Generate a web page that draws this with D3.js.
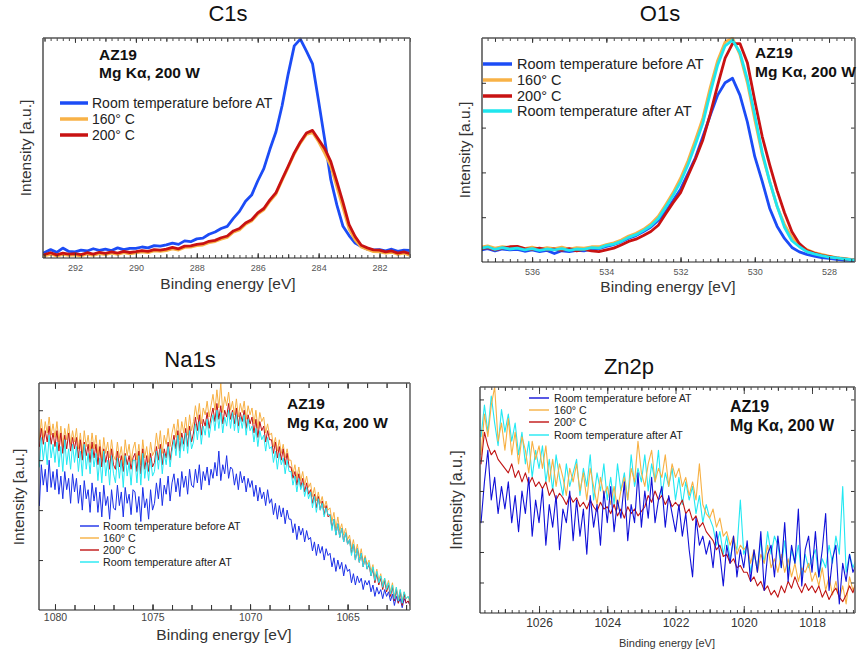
<!DOCTYPE html>
<html>
<head>
<meta charset="utf-8">
<script src="https://cdn.jsdelivr.net/npm/d3@7"></script>
<style>
  body { margin: 0; background: #ffffff; }
  svg { display: block; font-family: "Liberation Sans", Arial, Helvetica, sans-serif; }
</style>
</head>
<body>
<svg id="chart" width="858" height="655"></svg>
<script>
// ---------------------------------------------------------------
// XPS spectra of AZ19 (Mg Kα, 200 W): C1s, O1s, Na1s, Zn2p
// Intensities are normalised (arbitrary units, 0–100 per panel).
// ---------------------------------------------------------------

const seriesNames = [
  "Room temperature before AT",
  "160° C",
  "200° C",
  "Room temperature after AT"
];
const annotationLines = ["AZ19", "Mg Kα, 200 W"];
const axisTitleX = "Binding energy [eV]";
const axisTitleY = "Intensity [a.u.]";

// ---- C1s: 293.0 eV down to 281.0 eV, 0.2 eV steps ----
const c1sStart = 293.0, c1sStep = 0.2;
const c1sTicks = [292, 290, 288, 286, 284, 282];
const c1sRtBefore = [
  2.5, 3.8, 2.6, 4.5, 3.0,
  2.8, 3.6, 3.2, 4.2, 3.5,
  4.0, 3.4, 4.6, 3.8, 4.4,
  4.4, 5.0, 4.6, 5.6, 5.4,
  6.0, 6.8, 6.2, 7.8, 7.4,
  8.7, 9.0, 10.8, 11.8, 13.4,
  14.4, 18.0, 21.2, 25.8, 28.6,
  35.0, 40.6, 49.4, 57.4, 69.2,
  83.6, 96.4, 99.5, 94.0, 88.2,
  71.2, 53.8, 35.6, 24.0, 14.4,
  10.2, 6.8, 5.2, 4.0, 3.7,
  3.8, 3.2, 4.0, 3.0, 3.6,
  3.4
];
const c1s160 = [
  1.0, 1.8, 0.9, 1.6, 1.2,
  1.4, 0.9, 1.8, 1.2, 2.0,
  1.5, 2.2, 1.6, 2.4, 1.9,
  2.3, 2.8, 2.4, 3.2, 3.0,
  3.4, 4.1, 3.6, 4.8, 4.9,
  5.6, 5.9, 7.0, 7.5, 8.6,
  9.4, 11.7, 12.8, 15.3, 16.8,
  19.9, 21.9, 25.8, 29.1, 35.3,
  41.2, 47.3, 52.2, 56.2, 57.0,
  52.8, 47.6, 41.8, 32.2, 22.8,
  13.2, 8.2, 5.0, 3.9, 2.9,
  2.8, 2.2, 2.6, 1.6, 2.2,
  1.2
];
const c1s200 = [
  1.6, 2.4, 1.4, 2.2, 1.8,
  2.0, 1.5, 2.4, 1.8, 2.6,
  2.1, 2.8, 2.2, 3.0, 2.5,
  2.9, 3.4, 3.0, 3.8, 3.6,
  4.0, 4.8, 4.2, 5.4, 5.5,
  6.2, 6.5, 7.6, 8.0, 9.2,
  10.0, 12.3, 13.4, 15.9, 17.4,
  20.5, 22.5, 26.4, 29.7, 35.8,
  41.7, 47.8, 52.7, 56.8, 58.0,
  53.8, 49.7, 43.8, 34.7, 25.3,
  15.2, 9.7, 5.8, 4.6, 3.7,
  3.6, 2.8, 3.2, 2.2, 2.8,
  2.0
];

// ---- O1s: 537.4 eV down to 527.2 eV, 0.2 eV steps ----
const o1sStart = 537.4, o1sStep = 0.2;
const o1sTicks = [536, 534, 532, 530, 528];
const o1sRtBefore = [
  5.2, 6.0, 5.0, 5.8, 5.4,
  5.6, 4.8, 5.4, 4.6, 5.2,
  3.8, 5.0, 4.6, 5.2, 5.0,
  5.8, 6.0, 7.0, 7.8, 9.0,
  10.6, 11.8, 13.6, 15.6, 18.6,
  22.5, 27.5, 32.5, 39.5, 46.5,
  55.9, 65.5, 74.5, 80.0, 82.0,
  74.5, 62.5, 47.0, 36.0, 24.0,
  16.0, 10.5, 6.5, 4.5, 3.4,
  2.6, 2.0, 1.6, 1.2, 0.9,
  0.7, 0.5
];
const o1s160 = [
  6.6, 7.2, 6.2, 6.9, 6.4,
  6.8, 6.0, 6.6, 5.8, 6.4,
  6.0, 6.6, 5.8, 6.4, 6.2,
  6.8, 6.8, 7.8, 8.6, 9.8,
  11.6, 12.8, 14.6, 17.0, 20.4,
  25.6, 31.0, 37.4, 45.2, 54.5,
  64.2, 78.0, 90.0, 98.2, 100.0,
  92.5, 80.0, 63.5, 48.0, 36.0,
  24.8, 16.8, 11.0, 7.6, 5.6,
  4.2, 3.4, 2.6, 2.0, 1.6,
  1.2, 1.0
];
const o1s200 = [
  5.8, 6.4, 5.4, 6.2, 6.8,
  7.0, 6.0, 5.6, 6.2, 5.4,
  5.8, 5.2, 6.0, 5.0, 5.6,
  5.0, 4.6, 5.4, 6.2, 7.6,
  9.2, 10.2, 11.8, 13.6, 16.4,
  21.5, 26.5, 31.0, 38.5, 46.0,
  54.5, 66.0, 79.0, 91.0, 97.5,
  97.5, 89.0, 72.0, 56.0, 43.5,
  32.0, 22.0, 13.5, 8.2, 5.2,
  4.0, 3.0, 2.4, 1.8, 1.4,
  1.0, 0.8
];
const o1sRtAfter = [
  6.0, 6.8, 5.6, 6.4, 5.8,
  6.2, 5.4, 6.0, 5.2, 5.8,
  5.4, 6.0, 5.2, 5.8, 5.6,
  6.4, 6.2, 7.4, 8.0, 9.2,
  11.0, 12.2, 14.0, 16.2, 19.4,
  24.5, 29.8, 35.8, 43.4, 52.5,
  62.0, 75.5, 88.0, 96.5, 99.0,
  93.5, 81.5, 65.5, 49.0, 36.0,
  25.0, 15.5, 9.5, 6.8, 4.6,
  3.6, 2.8, 2.2, 1.8, 1.4,
  1.0, 0.8
];

// ---- Na1s: 1080.8 eV down to 1061.8 eV, 0.1 eV steps ----
const na1sStart = 1080.8, na1sStep = 0.1;
const na1sTicks = [1080, 1075, 1070, 1065];
const na1sRtBefore = [
  46, 64, 55, 62, 52, 66, 54, 61, 53,
  62, 51, 59, 49, 61, 53, 58, 47, 60, 52,
  58, 47, 55, 44, 57, 49, 53, 43, 56, 48,
  54, 43, 52, 41, 55, 46, 50, 40, 53, 45,
  44, 55, 46, 52, 41, 54, 47, 51, 42, 53,
  52, 43, 50, 39, 54, 45, 49, 40, 53, 44,
  47, 56, 49, 58, 46, 55, 51, 59, 48, 56,
  60, 52, 58, 50, 61, 54, 59, 51, 62, 55,
  54, 62, 56, 64, 53, 61, 57, 63, 55, 62,
  58, 65, 59, 70, 57, 64, 60, 68, 58, 63,
  62, 55, 60, 53, 61, 56, 59, 52, 58, 54,
  57, 50, 55, 48, 54, 49, 52, 46, 53, 47,
  49, 42, 47, 40, 46, 41, 45, 38, 44, 40,
  40, 34, 38, 31, 37, 33, 36, 30, 35, 31,
  32, 26, 30, 24, 29, 25, 28, 22, 27, 24,
  25, 19, 23, 17, 22, 18, 21, 15, 20, 17,
  18, 12, 16, 11, 15, 12, 14, 9, 13, 11,
  13, 8, 11, 6, 10, 7, 9, 5, 9, 6,
  8, 4, 7, 2, 6, 3, 5, 1, 5, 3,
  4, 2
];
const na1s160 = [
  75, 84, 76, 83, 78, 85, 77, 82, 76,
  83, 74, 81, 72, 80, 75, 82, 73, 79, 74,
  80, 71, 78, 69, 79, 72, 77, 70, 78, 71,
  77, 68, 75, 66, 76, 69, 74, 67, 75, 68,
  66, 74, 67, 72, 64, 75, 68, 73, 65, 71,
  74, 66, 73, 64, 75, 67, 72, 65, 74, 68,
  70, 78, 71, 79, 69, 77, 73, 80, 72, 78,
  82, 76, 84, 75, 83, 78, 85, 77, 86, 79,
  83, 90, 84, 91, 82, 89, 86, 92, 85, 90,
  95, 88, 97, 89, 100, 87, 94, 90, 96, 88,
  92, 86, 93, 85, 91, 87, 92, 84, 90, 86,
  89, 82, 88, 80, 87, 83, 85, 78, 82, 77,
  78, 72, 76, 70, 75, 69, 73, 67, 71, 66,
  66, 60, 64, 58, 63, 57, 61, 55, 59, 54,
  56, 50, 54, 48, 52, 47, 50, 45, 48, 44,
  45, 39, 43, 36, 41, 35, 38, 33, 36, 31,
  33, 27, 31, 25, 29, 23, 27, 21, 24, 20,
  22, 17, 20, 14, 18, 13, 16, 11, 14, 10,
  13, 8, 12, 6, 10, 5, 9, 4, 8, 5,
  6, 3
];
const na1s200 = [
  72, 80, 73, 79, 74, 81, 73, 78, 72,
  79, 70, 78, 69, 77, 71, 78, 70, 76, 71,
  76, 67, 75, 66, 74, 68, 73, 65, 74, 67,
  73, 64, 72, 63, 71, 65, 70, 62, 71, 64,
  62, 70, 63, 68, 61, 69, 64, 68, 62, 67,
  69, 61, 70, 60, 71, 62, 68, 61, 69, 63,
  65, 72, 66, 73, 64, 71, 67, 74, 66, 72,
  77, 71, 79, 70, 78, 73, 80, 72, 81, 74,
  78, 85, 79, 86, 77, 84, 81, 87, 80, 85,
  89, 83, 91, 84, 90, 82, 88, 85, 91, 84,
  88, 82, 89, 81, 87, 83, 88, 80, 86, 82,
  85, 78, 84, 76, 83, 79, 81, 74, 79, 75,
  75, 69, 74, 67, 72, 66, 71, 64, 69, 63,
  63, 58, 61, 55, 60, 54, 58, 52, 56, 51,
  53, 47, 51, 45, 50, 44, 48, 42, 46, 41,
  42, 36, 40, 33, 38, 32, 36, 30, 34, 29,
  31, 25, 29, 22, 27, 21, 25, 19, 23, 18,
  20, 15, 18, 12, 16, 11, 14, 9, 13, 8,
  11, 6, 10, 4, 9, 3, 8, 2, 7, 3,
  4, 2
];
const na1sRtAfter = [
  63, 76, 66, 74, 64, 77, 67, 73, 65,
  74, 63, 72, 61, 75, 64, 71, 62, 73, 65,
  72, 61, 70, 59, 73, 62, 69, 60, 71, 63,
  69, 57, 67, 56, 70, 59, 66, 55, 68, 60,
  56, 67, 58, 66, 54, 68, 59, 65, 55, 66,
  66, 56, 68, 55, 69, 58, 65, 57, 67, 59,
  61, 70, 62, 71, 60, 69, 64, 72, 63, 70,
  75, 68, 77, 67, 76, 70, 78, 69, 79, 71,
  74, 82, 75, 83, 73, 81, 77, 84, 76, 82,
  86, 79, 88, 80, 87, 78, 85, 81, 88, 80,
  87, 79, 86, 78, 85, 80, 86, 77, 84, 79,
  81, 74, 80, 72, 79, 75, 77, 70, 76, 71,
  72, 65, 70, 62, 69, 64, 67, 60, 66, 61,
  61, 55, 59, 52, 58, 53, 56, 50, 54, 49,
  52, 45, 50, 43, 49, 44, 47, 41, 45, 42,
  42, 35, 40, 33, 38, 32, 36, 30, 34, 29,
  31, 24, 29, 22, 27, 21, 25, 19, 23, 18,
  21, 15, 19, 13, 17, 12, 15, 10, 14, 9,
  12, 7, 11, 5, 10, 4, 9, 3, 8, 5,
  6, 4
];

// ---- Zn2p: 1027.7 eV down to 1016.7 eV, 0.1 eV steps ----
const zn2pStart = 1027.7, zn2pStep = 0.1;
const zn2pTicks = [1026, 1024, 1022, 1020, 1018];
const zn2pRtBefore = [
  40, 58, 72, 50, 60, 44, 56, 46,
  58, 40, 52, 36, 54, 44, 60, 34, 50, 40,
  55, 30, 48, 38, 52, 28, 46, 40, 54, 32,
  50, 34, 46, 26, 52, 38, 48, 30, 54, 40,
  56, 36, 50, 42, 58, 32, 48, 40, 62, 38,
  54, 42, 60, 40, 50, 56, 38, 52, 44, 36,
  48, 34, 44, 28, 16, 42, 30, 34, 26, 32,
  20, 36, 26, 12, 30, 22, 34, 16, 28, 20,
  32, 14, 28, 18, 36, 10, 26, 30, 16, 34,
  20, 40, 14, 30, 22, 46, 12, 28, 34, 18,
  36, 16, 28, 44, 10, 24, 30, 4, 22, 14,
  26, 18, 22
];
const zn2p160 = [
  70, 88, 78, 92, 100, 76, 84, 72,
  86, 70, 80, 66, 78, 72, 62, 76, 68, 74,
  64, 74, 58, 68, 56, 66, 60, 52, 64, 58,
  66, 54, 62, 50, 64, 56, 48, 60, 52, 56,
  48, 56, 46, 54, 60, 50, 64, 58, 76, 62,
  56, 66, 72, 58, 64, 60, 70, 56, 66, 60,
  64, 56, 60, 52, 58, 50, 66, 48, 44, 42,
  46, 38, 42, 34, 36, 30, 34, 26, 30, 28,
  30, 22, 28, 18, 26, 22, 30, 20, 24, 18,
  26, 18, 24, 16, 22, 14, 20, 18, 22, 14,
  18, 12, 20, 10, 16, 8, 14, 6, 12, 4,
  16, 10, 14
];
const zn2p200 = [
  66, 80, 74, 70, 72, 68, 66, 64,
  62, 66, 60, 63, 58, 62, 57, 60, 56, 58,
  55, 58, 52, 55, 50, 53, 51, 48, 52, 49,
  51, 47, 49, 46, 50, 47, 45, 49, 46, 47,
  44, 48, 43, 46, 42, 47, 44, 46, 43, 45,
  47, 52, 49, 54, 50, 52, 48, 51, 47, 49,
  47, 50, 44, 46, 41, 43, 38, 40, 36, 34,
  32, 28, 30, 25, 26, 22, 24, 20, 21, 18,
  18, 14, 16, 12, 14, 10, 12, 8, 10, 7,
  12, 9, 14, 11, 16, 12, 9, 13, 10, 12,
  9, 12, 7, 10, 6, 9, 11, 7, 5, 8,
  12, 9, 14
];
const zn2pRtAfter = [
  78, 92, 80, 96, 84, 74, 90, 80,
  88, 76, 84, 70, 80, 66, 76, 60, 72, 64,
  74, 58, 68, 54, 70, 60, 52, 66, 56, 62,
  68, 52, 64, 56, 70, 50, 62, 54, 66, 50,
  60, 48, 66, 54, 62, 50, 70, 56, 64, 58,
  70, 54, 66, 58, 72, 52, 62, 56, 64, 50,
  60, 48, 58, 50, 56, 44, 52, 40, 48, 42,
  38, 30, 36, 26, 34, 24, 32, 28, 50, 26,
  30, 18, 26, 20, 32, 22, 36, 26, 34, 30,
  20, 32, 18, 28, 22, 30, 16, 26, 20, 24,
  28, 16, 24, 20, 30, 22, 34, 26, 56, 18,
  26, 20, 24
];

// ---------------------------------------------------------------
// Styling and layout
// ---------------------------------------------------------------
const thickColors = { before: "#1c4cf6", c160: "#f8b247", c200: "#c81212", after: "#1fe6ee" };
const thinColors  = { before: "#1a2fe8", c160: "#f7b043", c200: "#c01414", after: "#22e8f2" };

const svg = d3.select("#chart");

function energyGrid(start, step, n) {
  return d3.range(n).map(i => Math.round((start - i * step) * 100) / 100);
}

function stepValues(lo, hi, step) {
  const k0 = Math.ceil(lo / step - 1e-6), k1 = Math.floor(hi / step + 1e-6);
  return d3.range(k0, k1 + 1).map(k => Math.round(k * step * 100) / 100);
}

const panels = [
  {
    id: "c1s", title: "C1s", titleX: 228, titleY: 21,
    left: 43, right: 410, top: 38, bottom: 258,
    xDomain: [293.05, 281.0], start: c1sStart, step: c1sStep,
    ticks: c1sTicks, minorStep: 0.2, midStep: 1, tickFont: 9, tickBaseline: 271, tickColor: "#555",
    majorLen: 5, midLen: 4, minorLen: 3, yTicks: [], yTickSides: [],
    xTitle: { x: 228, y: 289, size: 15.5 }, yTitle: { x: 31, y: 148, size: 15.5 },
    ann: { x: 99, y1: 60, y2: 78, size: 15.5 },
    lw: 2.8,
    series: [
      { values: c1sRtBefore, color: thickColors.before },
      { values: c1s160, color: thickColors.c160 },
      { values: c1s200, color: thickColors.c200 }
    ],
    legend: { x1: 60, x2: 88, tx: 92, ys: [103, 119, 135], size: 14, lw: 3.5, idx: [0, 1, 2],
              colors: [thickColors.before, thickColors.c160, thickColors.c200] }
  },
  {
    id: "o1s", title: "O1s", titleX: 660, titleY: 21,
    left: 482, right: 855, top: 38, bottom: 262,
    xDomain: [537.35, 527.3], start: o1sStart, step: o1sStep,
    ticks: o1sTicks, minorStep: 0.2, midStep: 1, tickFont: 9, tickBaseline: 275, tickColor: "#555",
    majorLen: 5, midLen: 4, minorLen: 3, yTicks: [20, 40, 60, 80], yTickSides: ["left", "right"],
    xTitle: { x: 668, y: 292, size: 15.5 }, yTitle: { x: 470, y: 150, size: 15.5 },
    ann: { x: 755, y1: 58, y2: 77, size: 15.5 },
    lw: 2.8,
    series: [
      { values: o1sRtBefore, color: thickColors.before },
      { values: o1s160, color: thickColors.c160 },
      { values: o1s200, color: thickColors.c200 },
      { values: o1sRtAfter, color: thickColors.after }
    ],
    legend: { x1: 483, x2: 512, tx: 517, ys: [64, 80, 96, 111], size: 14.5, lw: 3.5, idx: [0, 1, 2, 3],
              colors: [thickColors.before, thickColors.c160, thickColors.c200, thickColors.after] }
  },
  {
    id: "na1s", title: "Na1s", titleX: 190, titleY: 367,
    left: 39, right: 410, top: 383, bottom: 610,
    xDomain: [1080.82, 1061.8], start: na1sStart, step: na1sStep,
    ticks: na1sTicks, minorStep: 1, midStep: 1, tickFont: 10.5, tickBaseline: 621, tickColor: "#444",
    majorLen: 6, midLen: 5, minorLen: 5, yTicks: [22, 44, 66, 88], yTickSides: ["left"],
    xTitle: { x: 224, y: 640, size: 15.5 }, yTitle: { x: 24, y: 497, size: 15.5 },
    ann: { x: 287, y1: 409, y2: 428, size: 15.5 },
    lw: 1.0,
    series: [
      { values: na1sRtBefore, color: thinColors.before },
      { values: na1s160, color: thinColors.c160 },
      { values: na1s200, color: thinColors.c200 },
      { values: na1sRtAfter, color: thinColors.after }
    ],
    legend: { x1: 80, x2: 99, tx: 103, ys: [526, 538, 550, 562], size: 10.7, lw: 1.4, idx: [0, 1, 2, 3],
              colors: [thinColors.before, thinColors.c160, thinColors.c200, thinColors.after] }
  },
  {
    id: "zn2p", title: "Zn2p", titleX: 629, titleY: 374,
    left: 480, right: 855, top: 387, bottom: 613,
    xDomain: [1027.73, 1016.74], start: zn2pStart, step: zn2pStep,
    ticks: zn2pTicks, minorStep: 0.2, midStep: 1, tickFont: 12, tickBaseline: 627, tickColor: "#333",
    majorLen: 7, midLen: 4, minorLen: 3, yTicks: [13.5, 27, 40.5, 54, 67.5, 81, 94.5], yTickSides: ["left", "right"],
    xTitle: { x: 667, y: 647, size: 11 }, yTitle: { x: 462, y: 500, size: 16 },
    ann: { x: 730, y1: 412, y2: 431, size: 16 },
    lw: 1.1,
    // drawing order: after AT, 160 °C, 200 °C, then before AT on top
    series: [
      { values: zn2pRtAfter, color: thinColors.after },
      { values: zn2p160, color: thinColors.c160 },
      { values: zn2p200, color: thinColors.c200 },
      { values: zn2pRtBefore, color: "#1010d8" }
    ],
    legend: { x1: 529, x2: 549, tx: 554, ys: [398, 410, 422, 435], size: 10.7, lw: 1.4, idx: [0, 1, 2, 3],
              colors: ["#1010d8", thinColors.c160, thinColors.c200, thinColors.after] }
  }
];

function drawPanel(p) {
  const g = svg.append("g").attr("class", "panel-" + p.id);
  const x = d3.scaleLinear().domain(p.xDomain).range([p.left, p.right]);
  const y = d3.scaleLinear().domain([0, 100]).range([p.bottom, p.top]);

  // plot area clip
  const clipId = "clip-" + p.id;
  svg.append("defs").append("clipPath").attr("id", clipId)
    .append("rect")
    .attr("x", p.left).attr("y", p.top - 1)
    .attr("width", p.right - p.left).attr("height", p.bottom - p.top + 1);

  // spectra
  const plot = g.append("g").attr("clip-path", `url(#${clipId})`);
  p.series.forEach(s => {
    const energies = energyGrid(p.start, p.step, s.values.length);
    const line = d3.line()
      .x((d, i) => x(energies[i]))
      .y(d => y(d));
    plot.append("path")
      .datum(s.values)
      .attr("d", line)
      .attr("fill", "none")
      .attr("stroke", s.color)
      .attr("stroke-width", p.lw)
      .attr("stroke-linejoin", "round")
      .attr("stroke-linecap", "round");
  });

  // inward tick marks on bottom and top
  const lo = Math.min(...p.xDomain), hi = Math.max(...p.xDomain);
  const minor = stepValues(lo, hi, p.minorStep);
  const mid = stepValues(lo, hi, p.midStep);
  const sets = [
    { vals: minor, len: p.minorLen },
    { vals: mid, len: p.midLen },
    { vals: p.ticks, len: p.majorLen }
  ];
  sets.forEach(set => {
    const bottomAxis = d3.axisBottom(x).tickValues(set.vals).tickSize(-set.len).tickFormat("");
    const topAxis = d3.axisTop(x).tickValues(set.vals).tickSize(-set.len).tickFormat("");
    [g.append("g").attr("transform", `translate(0,${p.bottom})`).call(bottomAxis),
     g.append("g").attr("transform", `translate(0,${p.top})`).call(topAxis)]
      .forEach(a => {
        a.select(".domain").remove();
        a.selectAll(".tick line").attr("stroke", "#333").attr("stroke-width", 0.9);
      });
  });

  // tick labels
  const labelAxis = d3.axisBottom(x).tickValues(p.ticks).tickSize(0)
    .tickPadding(p.tickBaseline - p.bottom - 0.71 * p.tickFont)
    .tickFormat(d3.format("d"));
  const la = g.append("g").attr("transform", `translate(0,${p.bottom})`).call(labelAxis);
  la.select(".domain").remove();
  la.selectAll(".tick text")
    .attr("font-size", p.tickFont)
    .attr("font-family", '"Liberation Sans", Arial, sans-serif')
    .attr("fill", p.tickColor);

  // inward y ticks (no labels)
  p.yTickSides.forEach(side => {
    const ax = (side === "left" ? d3.axisLeft(y) : d3.axisRight(y))
      .tickValues(p.yTicks).tickSize(-4).tickFormat("");
    const a = g.append("g")
      .attr("transform", `translate(${side === "left" ? p.left : p.right},0)`)
      .call(ax);
    a.select(".domain").remove();
    a.selectAll(".tick line").attr("stroke", "#333");
  });

  // frame
  g.append("line").attr("x1", p.left).attr("x2", p.right).attr("y1", p.bottom).attr("y2", p.bottom)
    .attr("stroke", "#222").attr("stroke-width", 1.2);
  g.append("line").attr("x1", p.left).attr("x2", p.left).attr("y1", p.top).attr("y2", p.bottom)
    .attr("stroke", "#222").attr("stroke-width", 1.2);
  g.append("line").attr("x1", p.left).attr("x2", p.right).attr("y1", p.top).attr("y2", p.top)
    .attr("stroke", "#555").attr("stroke-width", 1.4);
  g.append("line").attr("x1", p.right).attr("x2", p.right).attr("y1", p.top).attr("y2", p.bottom)
    .attr("stroke", "#666").attr("stroke-width", 1.6);

  // title
  g.append("text").attr("x", p.titleX).attr("y", p.titleY)
    .attr("text-anchor", "middle").attr("font-size", 22).attr("fill", "#111")
    .text(p.title);

  // axis titles
  g.append("text").attr("x", p.xTitle.x).attr("y", p.xTitle.y)
    .attr("text-anchor", "middle").attr("font-size", p.xTitle.size).attr("fill", "#333")
    .text(axisTitleX);
  g.append("text")
    .attr("transform", `translate(${p.yTitle.x},${p.yTitle.y}) rotate(-90)`)
    .attr("text-anchor", "middle").attr("font-size", p.yTitle.size).attr("fill", "#333")
    .text(axisTitleY);

  // sample annotation
  annotationLines.forEach((t, i) => {
    g.append("text").attr("x", p.ann.x).attr("y", i === 0 ? p.ann.y1 : p.ann.y2)
      .attr("font-size", p.ann.size).attr("font-weight", "bold").attr("fill", "#111")
      .text(t);
  });

  // legend
  const L = p.legend;
  L.idx.forEach((si, k) => {
    const cy = L.ys[k];
    g.append("line").attr("x1", L.x1).attr("x2", L.x2).attr("y1", cy).attr("y2", cy)
      .attr("stroke", L.colors[k]).attr("stroke-width", L.lw);
    g.append("text").attr("x", L.tx).attr("y", cy).attr("dy", "0.35em")
      .attr("font-size", L.size).attr("fill", "#222")
      .text(seriesNames[si]);
  });
}

panels.forEach(drawPanel);
</script>
</body>
</html>
